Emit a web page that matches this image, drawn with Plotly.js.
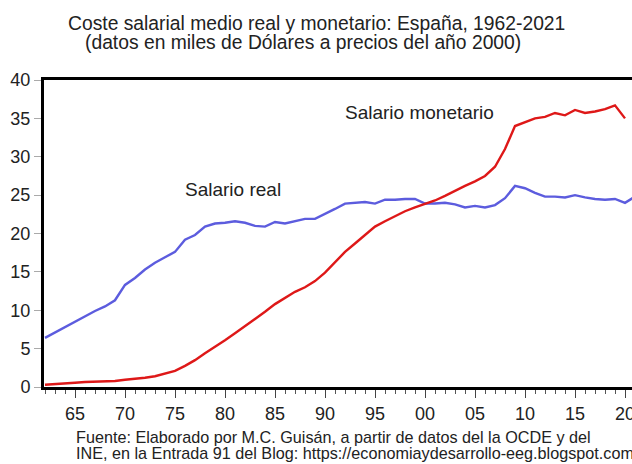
<!DOCTYPE html>
<html>
<head>
<meta charset="utf-8">
<script src="https://cdn.plot.ly/plotly-3.0.1.min.js"></script>
<style>
html, body { margin: 0; padding: 0; width: 632px; height: 464px; overflow: hidden; background: #fff; }
#chart { width: 660px; height: 464px; }
</style>
</head>
<body>
<div id="chart"></div>
<script>
const years = [];
for (let y = 1962; y <= 2021; y++) years.push(y);

const salarioReal = [
  6.4, 7.1, 7.9, 8.5, 9.2, 9.9, 10.5, 11.3, 13.3, 14.2,
  15.3, 16.2, 16.9, 17.6, 19.2, 19.8, 20.9, 21.3, 21.4, 21.6,
  21.4, 21.0, 20.9, 21.5, 21.3, 21.6, 21.9, 21.9, 22.5, 23.2,
  23.9, 24.0, 24.1, 23.9, 24.4, 24.4, 24.5, 24.5, 23.9, 23.9,
  24.0, 23.8, 23.4, 23.6, 23.4, 23.7, 24.6, 26.2, 25.9, 25.3,
  24.8, 24.8, 24.7, 25.0, 24.7, 24.5, 24.4, 24.5, 24.0, 24.8
];

const salarioMonetario = [
  0.3, 0.35, 0.45, 0.55, 0.65, 0.7, 0.72, 0.78, 0.95, 1.05,
  1.2, 1.4, 1.7, 2.1, 2.75, 3.5, 4.4, 5.2, 6.1, 7.0,
  7.9, 8.9, 9.8, 10.8, 11.6, 12.4, 13.0, 13.8, 14.9, 16.2,
  17.6, 18.7, 19.8, 20.9, 21.6, 22.3, 22.9, 23.4, 23.8, 24.3,
  24.9, 25.6, 26.2, 26.8, 27.5, 28.7, 31.0, 34.0, 34.5, 35.0,
  35.2, 35.7, 35.4, 36.1, 35.7, 35.9, 36.2, 36.7, 35.0, null
];

const xTickVals = [1965, 1970, 1975, 1980, 1985, 1990, 1995, 2000, 2005, 2010, 2015, 2020];
const xTickText = ["65", "70", "75", "80", "85", "90", "95", "00", "05", "10", "15", "20"];

const titleLine1 = "Coste salarial medio real y monetario: España, 1962-2021";
const titleLine2 = "(datos en miles de Dólares a precios del año 2000)";
const footLine1 = "Fuente: Elaborado por M.C. Guisán, a partir de datos del la OCDE y del";
const footLine2 = "INE, en la Entrada 91 del Blog: https://economiaydesarrollo-eeg.blogspot.com";

const FONT = "Liberation Sans, Arial, sans-serif";

const traces = [
  { x: years, y: salarioReal, type: "scatter", mode: "lines", name: "Salario real",
    line: { color: "rgb(92,92,222)", width: 2.4 }, connectgaps: false },
  { x: years, y: salarioMonetario, type: "scatter", mode: "lines", name: "Salario monetario",
    line: { color: "rgb(222,24,24)", width: 2.4 }, connectgaps: false }
];

const layout = {
  width: 660, height: 464,
  margin: { l: 44, r: 20, t: 80, b: 77 },
  paper_bgcolor: "#fff", plot_bgcolor: "#fff",
  showlegend: false,
  font: { family: FONT, color: "#222" },
  xaxis: {
    range: [1961.9, 2021.5],
    tickvals: xTickVals, ticktext: xTickText,
    ticks: "outside", ticklen: 8, tickwidth: 1, tickcolor: "#444",
    showline: true, linewidth: 3, linecolor: "#000", mirror: true,
    showgrid: false, zeroline: false,
    tickfont: { size: 18, color: "#222", family: FONT },
    minor: { tick0: 1962, dtick: 1, ticks: "outside", ticklen: 4, tickwidth: 1, tickcolor: "#555", showgrid: false }
  },
  yaxis: {
    range: [0, 40], dtick: 5, tick0: 0,
    ticks: "outside", ticklen: 7, tickwidth: 1, tickcolor: "#aaa",
    showline: true, linewidth: 3, linecolor: "#000", mirror: true,
    showgrid: false, zeroline: false,
    tickfont: { size: 18, color: "#222", family: FONT }
  },
  annotations: [
    { text: titleLine1, xref: "paper", yref: "paper", x: 0.0369, y: 1.183, xanchor: "left", yanchor: "middle",
      showarrow: false, font: { size: 19.3, color: "#222", family: FONT } },
    { text: titleLine2, xref: "paper", yref: "paper", x: 0.0654, y: 1.121, xanchor: "left", yanchor: "middle",
      showarrow: false, font: { size: 19.3, color: "#222", family: FONT } },
    { text: footLine1, xref: "paper", yref: "paper", x: 0.0503, y: -0.163, xanchor: "left", yanchor: "middle",
      showarrow: false, font: { size: 16.2, color: "#222", family: FONT } },
    { text: footLine2, xref: "paper", yref: "paper", x: 0.0503, y: -0.215, xanchor: "left", yanchor: "middle",
      showarrow: false, font: { size: 16.2, color: "#222", family: FONT } },
    { text: "Salario real", xref: "x", yref: "y", x: 1980.75, y: 25.7, xanchor: "center", yanchor: "middle",
      showarrow: false, font: { size: 19, color: "#222", family: FONT } },
    { text: "Salario monetario", xref: "x", yref: "y", x: 1999.45, y: 35.8, xanchor: "center", yanchor: "middle",
      showarrow: false, font: { size: 19, color: "#222", family: FONT } }
  ]
};

Plotly.newPlot("chart", traces, layout, { displayModeBar: false, staticPlot: true });
</script>
</body>
</html>
